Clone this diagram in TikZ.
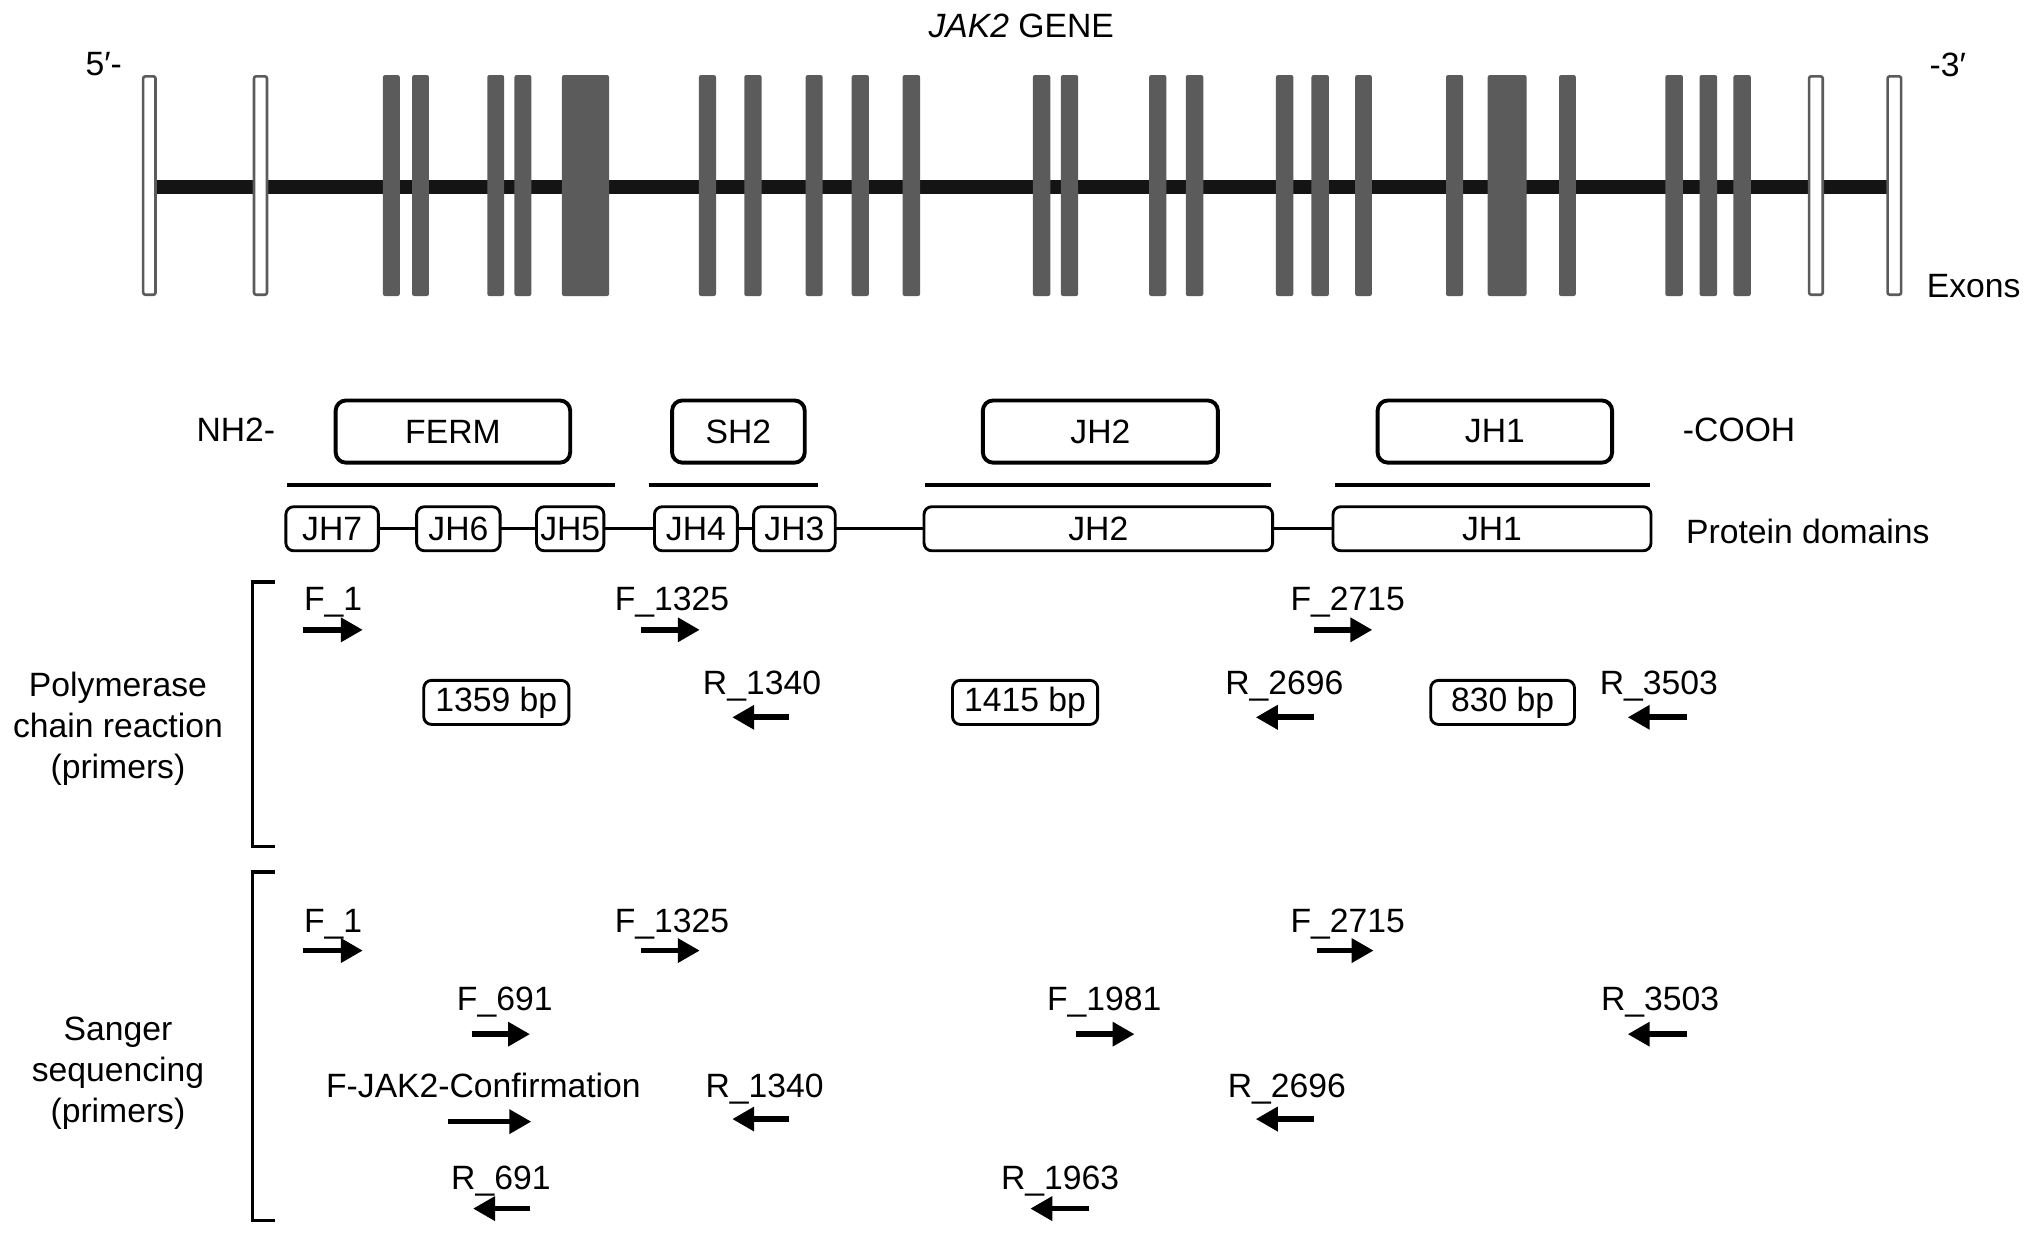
\documentclass[tikz,border=0pt]{standalone}
\usepackage{fontspec}
\setmainfont{Liberation Sans}
\usetikzlibrary{arrows.meta}
\definecolor{exgray}{HTML}{5B5B5B}
\definecolor{genebk}{HTML}{141414}
\begin{document}
\begin{tikzpicture}[x=0.5pt,y=-0.5pt,
  every node/.style={font=\fontsize{13}{15.75}\selectfont, inner sep=0pt, outer sep=0pt},
  lbl/.style={anchor=base},
  exonbar/.style={fill=exgray, rounded corners=0.8pt},
  utrbar/.style={fill=white, draw=exgray, line width=1pt, rounded corners=0.8pt},
  topdom/.style={draw, line width=1.5pt, rounded corners=4pt, minimum height=24pt},
  subdom/.style={draw, line width=1.1pt, rounded corners=3pt, minimum height=17pt},
  bpbox/.style={draw, line width=1.1pt, rounded corners=3pt, minimum height=17pt},
  overline/.style={line width=1.5pt},
  linker/.style={line width=1.1pt},
  brack/.style={line width=1.3pt},
  prim/.style={line width=2.2pt, -{Triangle[length=8.5pt,width=9pt]}}
]
\useasboundingbox (0,0) rectangle (1568,955);

% ---------- gene ----------
\node[lbl] (title) at (788,29) {\textit{JAK2} GENE};
\node[lbl] (five) at (80,58.6) {5′-};
\node[lbl] (three) at (1503,59) {-3′};
\node[lbl] (exons) at (1523,229.5) {Exons};

\coordinate (gs) at (115,144.3);
\coordinate (ge) at (1462,144.3);
\draw[line width=5.5pt, genebk] (gs) -- (ge);

\foreach \l/\r in {295.5/308.5, 318/331, 376/389, 397/410, 433.6/470,
  539.3/552.5, 574.3/587.7, 621.7/634.8, 657.2/670.5, 696.5/710,
  797/810.5, 818.6/832, 886.7/900, 915/928.5, 984.6/998, 1012/1025.5,
  1045.7/1058.6, 1115.8/1129, 1148/1178, 1203/1216, 1285/1298.6,
  1311.5/1325, 1337.6/1351}
  \fill[exonbar] (\l,57.9) rectangle (\r,228.4);
\foreach \l/\r in {109.5/121, 195/207, 1395/1407.5, 1455.6/1468}
  \draw[utrbar] (\l+1,58.9) rectangle (\r-1,227.4);

% ---------- protein domains ----------
\node[lbl] (nh2) at (182,341) {NH2-};
\node[lbl] (cooh) at (1342,341) {-COOH};
\node[lbl] (protdom) at (1395,419) {Protein domains};

\node[topdom, minimum width=90.5pt] (ferm) at (349.5,333) {FERM};
\node[topdom, minimum width=51.2pt] (sh2) at (569.8,333) {SH2};
\node[topdom, minimum width=90.7pt] (jh2t) at (849.1,333) {JH2};
\node[topdom, minimum width=90.5pt] (jh1t) at (1153.5,333) {JH1};

\coordinate (o1s) at (221.6,374); \coordinate (o1e) at (474.6,374);
\coordinate (o2s) at (500.6,374); \coordinate (o2e) at (631,374);
\coordinate (o3s) at (714,374);   \coordinate (o3e) at (980.7,374);
\coordinate (o4s) at (1030.5,374); \coordinate (o4e) at (1273,374);
\draw[overline] (o1s) -- (o1e);
\draw[overline] (o2s) -- (o2e);
\draw[overline] (o3s) -- (o3e);
\draw[overline] (o4s) -- (o4e);

\node[subdom, minimum width=35.7pt] (jh7) at (256.3,408) {JH7};
\node[subdom, minimum width=32.2pt] (jh6) at (353.7,408) {JH6};
\node[subdom, minimum width=26pt] (jh5) at (440,408) {JH5};
\node[subdom, minimum width=32pt] (jh4) at (537,408) {JH4};
\node[subdom, minimum width=31.5pt] (jh3) at (613,408) {JH3};
\node[subdom, minimum width=134.5pt] (jh2b) at (847.5,408) {JH2};
\node[subdom, minimum width=122.7pt] (jh1b) at (1151.3,408) {JH1};

\draw[linker] (jh7.east) -- (jh6.west);
\draw[linker] (jh6.east) -- (jh5.west);
\draw[linker] (jh5.east) -- (jh4.west);
\draw[linker] (jh4.east) -- (jh3.west);
\draw[linker] (jh3.east) -- (jh2b.west);
\draw[linker] (jh2b.east) -- (jh1b.west);

% ---------- PCR ----------
\node[align=center] (pcr) at (91,562.5) {Polymerase\\chain reaction\\(primers)};
\coordinate (b1a) at (212,449); \coordinate (b1b) at (195,449);
\coordinate (b1c) at (195,653); \coordinate (b1d) at (212,653);
\draw[brack] (b1a) -- (b1b) -- (b1c) -- (b1d);

\node[lbl] (pF1) at (257,471) {F\_1};
\node[lbl] (pF1325) at (518.5,471) {F\_1325};
\node[lbl] (pF2715) at (1040,471) {F\_2715};
\node[lbl] (pR1340) at (588,536) {R\_1340};
\node[lbl] (pR2696) at (991,536) {R\_2696};
\node[lbl] (pR3503) at (1280,536) {R\_3503};

\coordinate (apF1s) at (234,486); \coordinate (apF1e) at (280,486);
\coordinate (apF1325s) at (495,486); \coordinate (apF1325e) at (540,486);
\coordinate (apF2715s) at (1014,486); \coordinate (apF2715e) at (1059,486);
\coordinate (apR1340s) at (609,553.5); \coordinate (apR1340e) at (565,553.5);
\coordinate (apR2696s) at (1014,553.5); \coordinate (apR2696e) at (969,553.5);
\coordinate (apR3503s) at (1302,553.5); \coordinate (apR3503e) at (1256,553.5);
\draw[prim] (apF1s) -- (apF1e);
\draw[prim] (apF1325s) -- (apF1325e);
\draw[prim] (apF2715s) -- (apF2715e);
\draw[prim] (apR1340s) -- (apR1340e);
\draw[prim] (apR2696s) -- (apR2696e);
\draw[prim] (apR3503s) -- (apR3503e);

\node[bpbox, minimum width=56pt] (bp1) at (383,542) {1359 bp};
\node[bpbox, minimum width=56pt] (bp2) at (791,542) {1415 bp};
\node[bpbox, minimum width=55.5pt] (bp3) at (1159.5,542) {830 bp};

% ---------- Sanger ----------
\node[align=center] (sanger) at (91,828) {Sanger\\sequencing\\(primers)};
\coordinate (b2a) at (212,673); \coordinate (b2b) at (195,673);
\coordinate (b2c) at (195,942); \coordinate (b2d) at (212,942);
\draw[brack] (b2a) -- (b2b) -- (b2c) -- (b2d);

\node[lbl] (sF1) at (257,719.5) {F\_1};
\node[lbl] (sF1325) at (518.5,719.5) {F\_1325};
\node[lbl] (sF2715) at (1040,719.5) {F\_2715};
\node[lbl] (sF691) at (389.5,780) {F\_691};
\node[lbl] (sF1981) at (852,780) {F\_1981};
\node[lbl] (sR3503) at (1281,780) {R\_3503};
\node[lbl] (sFconf) at (373,847) {F-JAK2-Confirmation};
\node[lbl] (sR1340) at (590,847) {R\_1340};
\node[lbl] (sR2696) at (993,847) {R\_2696};
\node[lbl] (sR691) at (386.5,917.5) {R\_691};
\node[lbl] (sR1963) at (818,917.5) {R\_1963};

\coordinate (asF1s) at (234,733.5); \coordinate (asF1e) at (280,733.5);
\coordinate (asF1325s) at (495,733.5); \coordinate (asF1325e) at (540,733.5);
\coordinate (asF2715s) at (1016,733.5); \coordinate (asF2715e) at (1060,733.5);
\coordinate (asF691s) at (364,798); \coordinate (asF691e) at (409,798);
\coordinate (asF1981s) at (830,798); \coordinate (asF1981e) at (875.5,798);
\coordinate (asR3503s) at (1302,798); \coordinate (asR3503e) at (1256,798);
\coordinate (asFconfs) at (346,865.5); \coordinate (asFconfe) at (410,865.5);
\coordinate (asR1340s) at (609,863.5); \coordinate (asR1340e) at (565,863.5);
\coordinate (asR2696s) at (1014,863.5); \coordinate (asR2696e) at (969,863.5);
\coordinate (asR691s) at (409,932.6); \coordinate (asR691e) at (365,932.6);
\coordinate (asR1963s) at (840,932.6); \coordinate (asR1963e) at (795,932.6);
\draw[prim] (asF1s) -- (asF1e);
\draw[prim] (asF1325s) -- (asF1325e);
\draw[prim] (asF2715s) -- (asF2715e);
\draw[prim] (asF691s) -- (asF691e);
\draw[prim] (asF1981s) -- (asF1981e);
\draw[prim] (asR3503s) -- (asR3503e);
\draw[prim] (asFconfs) -- (asFconfe);
\draw[prim] (asR1340s) -- (asR1340e);
\draw[prim] (asR2696s) -- (asR2696e);
\draw[prim] (asR691s) -- (asR691e);
\draw[prim] (asR1963s) -- (asR1963e);
\end{tikzpicture}
\end{document}
